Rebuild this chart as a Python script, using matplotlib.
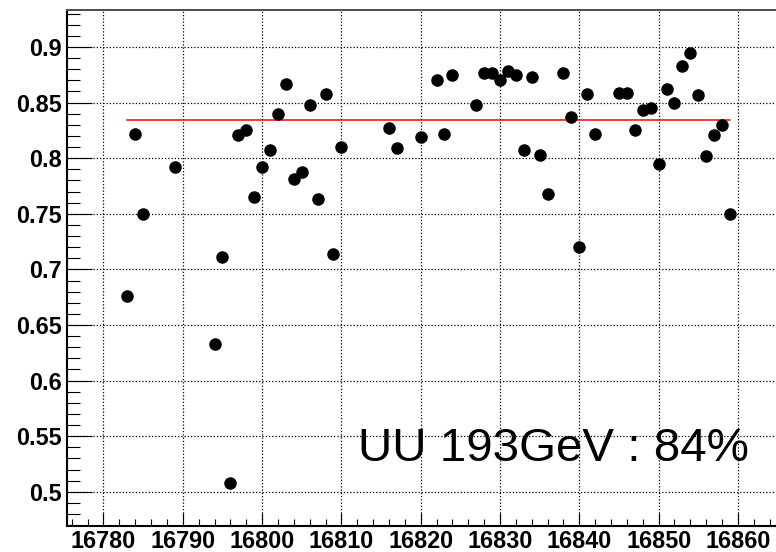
"""
Run-by-run efficiency, UU 193 GeV, with constant fit
"""
import matplotlib

matplotlib.use("Agg")
import matplotlib.pyplot as plt
from matplotlib.ticker import MultipleLocator

# run numbers and efficiency per run
runs = [
    16783, 16784, 16785, 16789, 16794, 16795, 16796, 16797, 16798, 16799,
    16800, 16801, 16802, 16803, 16804, 16805, 16806, 16807, 16808, 16809,
    16810, 16816, 16817, 16820, 16822, 16823, 16824, 16827, 16828, 16829,
    16830, 16831, 16832, 16833, 16834, 16835, 16836, 16838, 16839, 16840,
    16841, 16842, 16845, 16846, 16847, 16848, 16849, 16850, 16851, 16852,
    16853, 16854, 16855, 16856, 16857, 16858, 16859,
]
efficiency = [
    0.676, 0.822, 0.750, 0.792, 0.633, 0.711, 0.508, 0.821, 0.825, 0.765,
    0.792, 0.807, 0.840, 0.867, 0.781, 0.788, 0.848, 0.763, 0.858, 0.714,
    0.810, 0.827, 0.809, 0.819, 0.870, 0.822, 0.875, 0.848, 0.877, 0.877,
    0.870, 0.878, 0.875, 0.807, 0.873, 0.803, 0.768, 0.877, 0.837, 0.720,
    0.858, 0.822, 0.859, 0.859, 0.825, 0.843, 0.845, 0.795, 0.862, 0.850,
    0.883, 0.895, 0.857, 0.802, 0.821, 0.830, 0.750,
]

# constant fit result
fit_value = 0.8344
fit_range = [16783, 16859]
label_text = "UU 193GeV : 84%"

plt.rcParams["font.family"] = ["Liberation Sans", "DejaVu Sans"]

fig = plt.figure(figsize=(7.76, 5.52), dpi=100)
ax = fig.add_axes([67 / 776, 26 / 552, 1 - 67 / 776, 516 / 552])

ax.plot(runs, efficiency, "o", color="black", markersize=8, zorder=5)
ax.plot(fit_range, [fit_value, fit_value], color="red", lw=1.1, zorder=4)

ax.set_xlim(16775.4, 16864.8)
ax.set_ylim(0.4692, 0.9333)

ax.xaxis.set_major_locator(MultipleLocator(10))
ax.xaxis.set_minor_locator(MultipleLocator(2))
ax.yaxis.set_major_locator(MultipleLocator(0.05))
ax.yaxis.set_minor_locator(MultipleLocator(0.01))
ax.yaxis.set_major_formatter(lambda v, p: f"{v:g}")

ax.grid(True, which="major", color="black", linestyle=(0, (1, 1.6)), lw=0.9)

ax.tick_params(axis="both", which="both", direction="in", width=0.8,
               labelsize=16.8, pad=4)
ax.tick_params(axis="x", which="major", length=9.4, pad=3)
ax.tick_params(axis="x", which="minor", length=4.7)
ax.tick_params(axis="y", which="major", length=18)
ax.tick_params(axis="y", which="minor", length=9.4)
ax.tick_params(top=False, right=False, which="both")
for lab in ax.get_xticklabels() + ax.get_yticklabels():
    lab.set_fontweight("bold")

ax.spines["left"].set_linewidth(1.5)
ax.spines["bottom"].set_linewidth(1.5)
ax.spines["top"].set_linewidth(1.4)
ax.spines["top"].set_color("0.3")
ax.spines["right"].set_visible(False)

fig.text(358 / 776, (552 - 461) / 552, label_text, fontsize=34.2,
         ha="left", va="baseline", color="black")

plt.savefig("out.png", dpi=100)
